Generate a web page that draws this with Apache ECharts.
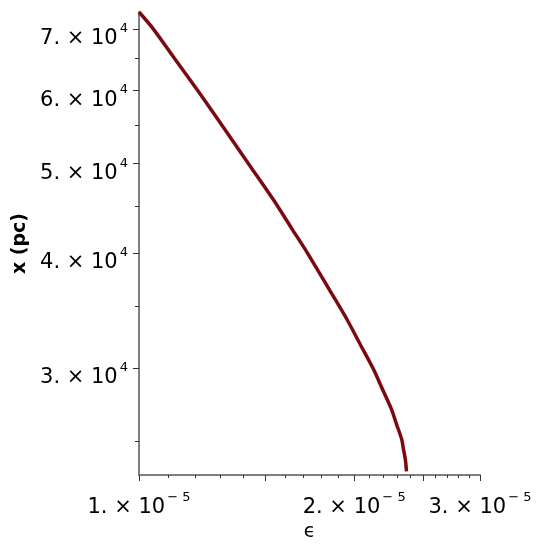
<!DOCTYPE html>
<html>
<head>
<meta charset="utf-8">
<script src="https://cdn.jsdelivr.net/npm/echarts@6/dist/echarts.min.js"></script>
<style>
  html, body { margin: 0; padding: 0; background: #fff; }
  #chart-container { width: 542px; height: 550px; }
</style>
</head>
<body>
<div id="chart-container"></div>
<script>
// curve: epsilon vs x (pc)
var epsValues = [1.000e-5, 1.0468e-5, 1.1220e-5, 1.2117e-5, 1.3108e-5, 1.4229e-5, 1.5412e-5, 1.6394e-5,
  1.7191e-5, 1.8463e-5, 1.9545e-5, 2.0400e-5, 2.1286e-5, 2.1912e-5, 2.2557e-5, 2.2931e-5,
  2.3310e-5, 2.3446e-5, 2.3583e-5, 2.3674e-5];
var xValues = [7.30e4, 7.00e4, 6.497e4, 5.983e4, 5.483e4, 5.000e4, 4.572e4, 4.242e4,
  4.006e4, 3.652e4, 3.390e4, 3.185e4, 2.994e4, 2.848e4, 2.709e4, 2.609e4,
  2.514e4, 2.452e4, 2.392e4, 2.321e4];

var epsTicks = [1.0e-5, 1.1e-5, 1.2e-5, 1.3e-5, 1.4e-5, 1.5e-5, 1.6e-5, 1.7e-5, 1.8e-5, 1.9e-5, 2.0e-5,
  2.1e-5, 2.2e-5, 2.3e-5, 2.4e-5, 2.5e-5, 2.6e-5, 2.7e-5, 2.8e-5, 2.9e-5, 3.0e-5];
var epsMajorTicks = [1.0e-5, 1.5e-5, 2.0e-5, 2.5e-5, 3.0e-5];
var epsLabels = [1e-5, 2e-5, 3e-5];
var xTicks = [2.5e4, 3.5e4, 4.5e4, 5.5e4, 6.5e4];
var xMajorTicks = [3e4, 4e4, 5e4, 6e4, 7e4];

var axisColor = "#7f7f7f";
var font = "DejaVu Sans";

function sciLabel(v) {
  var e = Math.floor(Math.log10(v) + 1e-9);
  var m = Math.round(v / Math.pow(10, e));
  var es = e < 0 ? "\u2212 " + (-e) : "" + e;
  return "{b|" + m + ". \u00d7 10}{s|" + es + "}";
}

var richLabel = {
  b: { fontFamily: font, fontSize: 21, lineHeight: 27, verticalAlign: "bottom", color: "#000" },
  s: { fontFamily: font, fontSize: 13, lineHeight: 13, verticalAlign: "top", color: "#000", padding: [0, 0, 0, 2] }
};

var dom = document.getElementById("chart-container");
var myChart = echarts.init(dom, null, { renderer: "canvas" });

var option = {
  animation: false,
  grid: { left: 139, right: 62, top: 12, bottom: 75, containLabel: false, outerBoundsMode: "none" },
  xAxis: [
    {
      type: "log",
      min: 1e-5,
      max: 3e-5,
      position: "bottom",
      name: "\u03f5",
      nameLocation: "middle",
      nameGap: 46,
      nameTextStyle: { fontFamily: font, fontSize: 19, color: "#000" },
      axisLine: { lineStyle: { color: axisColor, width: 2 } },
      axisTick: { customValues: epsTicks, length: 3, lineStyle: { color: "#333", width: 1 } },
      axisLabel: {
        customValues: epsLabels,
        margin: 16,
        formatter: sciLabel,
        rich: richLabel
      },
      splitLine: { show: false }
    },
    {
      type: "log",
      min: 1e-5,
      max: 3e-5,
      position: "bottom",
      axisLine: { show: false },
      axisTick: { customValues: epsMajorTicks, length: 6, lineStyle: { color: "#333", width: 1 } },
      axisLabel: { show: false },
      splitLine: { show: false }
    }
  ],
  yAxis: [
    {
      type: "log",
      min: 2.30e4,
      max: 7.30e4,
      position: "left",
      name: "x (pc)",
      nameLocation: "middle",
      nameGap: 108,
      nameRotate: 90,
      nameTextStyle: { fontFamily: font, fontSize: 19, fontWeight: "bold", color: "#000" },
      axisLine: { lineStyle: { color: axisColor, width: 2 } },
      axisTick: { customValues: xTicks, length: 4, lineStyle: { color: "#333", width: 1 } },
      axisLabel: {
        customValues: xMajorTicks,
        margin: 11,
        padding: [13, 0, 0, 0],
        formatter: sciLabel,
        rich: richLabel
      },
      splitLine: { show: false }
    },
    {
      type: "log",
      min: 2.30e4,
      max: 7.30e4,
      position: "left",
      axisLine: { show: false },
      axisTick: { customValues: xMajorTicks, length: 6, lineStyle: { color: "#333", width: 1 } },
      axisLabel: { show: false },
      splitLine: { show: false }
    }
  ],
  series: [
    {
      type: "line",
      xAxisIndex: 0,
      yAxisIndex: 0,
      data: epsValues.map(function (e, i) { return [e, xValues[i]]; }),
      showSymbol: false,
      smooth: 0.3,
      clip: false,
      lineStyle: { color: "#7a0a10", width: 3.5 }
    }
  ]
};

myChart.setOption(option);
window.addEventListener("resize", myChart.resize);
</script>
</body>
</html>
